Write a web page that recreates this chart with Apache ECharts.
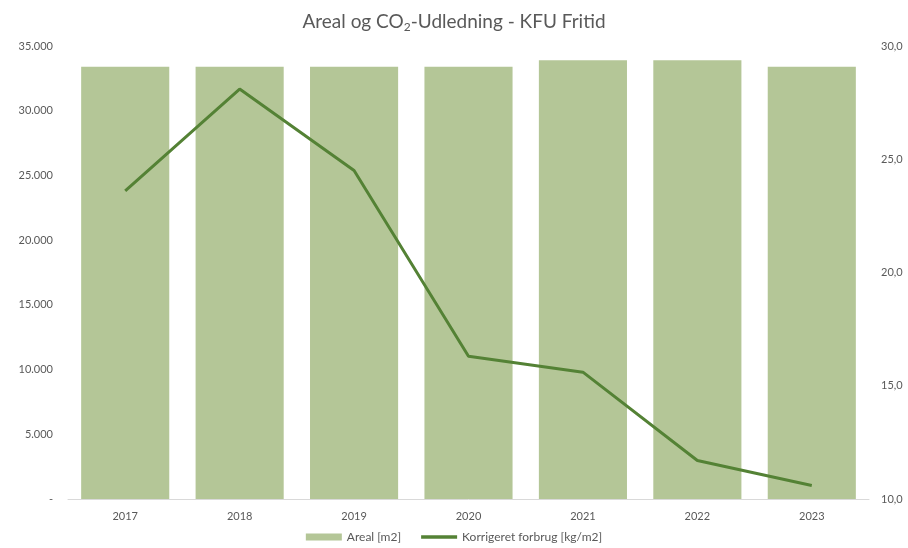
<!DOCTYPE html>
<html>
<head>
<meta charset="utf-8">
<script src="https://cdn.jsdelivr.net/npm/echarts@6/dist/echarts.min.js"></script>
<style>html,body{margin:0;padding:0;background:#fff}#c{width:908px;height:548px}</style>
</head>
<body>
<div id="c"></div>
<script>
const years = ['2017','2018','2019','2020','2021','2022','2023'];
const areal = [33400, 33400, 33400, 33400, 33900, 33900, 33400];
const forbrug = [23.6, 28.1, 24.5, 16.3, 15.6, 11.7, 10.6];
const leftTicks = { min: 0, max: 35000, interval: 5000 };
const rightTicks = { min: 10, max: 30, interval: 5 };

const font = 'Lato, "Open Sans", sans-serif';
const chart = echarts.init(document.getElementById('c'));
chart.setOption({
  animation: false,
  textStyle: { fontFamily: font },
  title: {
    text: 'Areal og CO{sub|2}-Udledning - KFU Fritid',
    left: 'center', top: 6,
    textStyle: {
      fontFamily: font, fontSize: 19, fontWeight: 'normal', color: '#595959',
      rich: { sub: { fontSize: 12, color: '#595959', fontFamily: font, verticalAlign: 'bottom', padding: [10, 0, 0, 0] } }
    }
  },
  legend: {
    bottom: 0, left: 'center', itemGap: 20,
    textStyle: { color: '#595959', fontSize: 12, fontFamily: font },
    data: [
      { name: 'Areal [m2]', icon: 'rect', itemStyle: { color: '#b4c697' } },
      { name: 'Korrigeret forbrug [kg/m2]', icon: 'path://M0,0 L30,0 L30,3 L0,3 Z', itemStyle: { color: '#548235' } }
    ],
    itemWidth: 36, itemHeight: 7
  },
  grid: { left: 68, right: 39, top: 46, bottom: 49 },
  xAxis: {
    type: 'category', data: years,
    axisLine: { lineStyle: { color: '#d9d9d9', width: 1 } },
    axisTick: { show: false },
    axisLabel: { color: '#595959', fontSize: 11, margin: 12 }
  },
  yAxis: [
    {
      type: 'value', min: leftTicks.min, max: leftTicks.max, interval: leftTicks.interval,
      splitLine: { show: false },
      axisLine: { show: false }, axisTick: { show: false },
      axisLabel: {
        color: '#595959', fontSize: 11, margin: 15,
        formatter: v => v === 0 ? '-' : v.toLocaleString('de-DE')
      }
    },
    {
      type: 'value', min: rightTicks.min, max: rightTicks.max, interval: rightTicks.interval,
      splitLine: { show: false },
      axisLine: { show: false }, axisTick: { show: false },
      axisLabel: {
        color: '#595959', fontSize: 11, margin: 12,
        formatter: v => v.toFixed(1).replace('.', ',')
      }
    }
  ],
  series: [
    {
      name: 'Areal [m2]', type: 'bar', data: areal, yAxisIndex: 0,
      barCategoryGap: '23%',
      itemStyle: { color: '#b4c697' }
    },
    {
      name: 'Korrigeret forbrug [kg/m2]', type: 'line', data: forbrug, yAxisIndex: 1,
      symbol: 'none',
      lineStyle: { color: '#548235', width: 3 },
      itemStyle: { color: '#548235' }
    }
  ]
});
</script>
</body>
</html>
